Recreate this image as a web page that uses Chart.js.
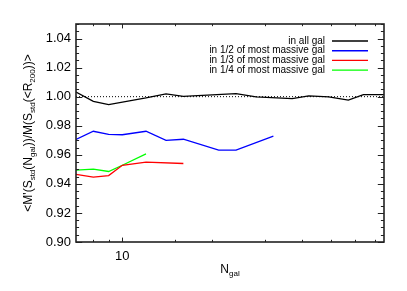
<!DOCTYPE html>
<html>
<head>
<meta charset="utf-8">
<script src="https://cdn.jsdelivr.net/npm/chart.js"></script>
<style>
  body { margin: 0; background: #fff; }
  canvas { display: block; }
</style>
</head>
<body>
<canvas id="chart" width="407" height="291"></canvas>
<script>
// data
const nAll = [7, 8, 9, 12, 14, 16, 24, 28, 37, 42, 49, 57, 64, 75];
const fracAll = [1.0032, 0.9968, 0.9945, 0.9991, 1.0019, 1.0002, 1.0021, 0.9998, 0.9986, 1.0005, 0.9998, 0.9976, 1.0014, 1.0014];

const nHalf = [7, 8, 9, 10, 12, 14, 16, 21, 24, 32];
const fracHalf = [0.9706, 0.9762, 0.9741, 0.9738, 0.9762, 0.9699, 0.9707, 0.9632, 0.9632, 0.9729];

const nThird = [7, 8, 9, 10, 12, 16];
const fracThird = [0.9465, 0.9447, 0.9457, 0.9528, 0.9550, 0.9540];

const nQuarter = [7, 8, 9, 10, 12];
const fracQuarter = [0.9495, 0.9502, 0.9485, 0.9528, 0.9606];

const refN = [7, 75];
const refLevel = [1.0, 1.0];

const labels = ["in all gal", "in 1/2 of most massive gal", "in 1/3 of most massive gal", "in 1/4 of most massive gal"];
const colors = ["#000000", "#0000ff", "#ff0000", "#00ff00"];

const xMin = 7, xMax = 75;
const yMin = 0.90, yMax = 1.05, yStep = 0.02, yMinorStep = 0.005;

const FONT = "'Liberation Sans', Arial, sans-serif";

function pts(xs, ys) {
  return xs.map((x, i) => ({ x: x, y: ys[i] }));
}

const series = [[nAll, fracAll], [nHalf, fracHalf], [nThird, fracThird], [nQuarter, fracQuarter]];

const datasets = series.map(([xs, ys], i) => ({
  label: labels[i],
  data: pts(xs, ys),
  borderColor: colors[i],
  borderWidth: 1.3,
  pointRadius: 0,
  tension: 0,
  fill: false,
}));
datasets.unshift({
  label: "",
  data: pts(refN, refLevel),
  borderColor: "#000",
  borderWidth: 1,
  borderDash: [1, 2],
  pointRadius: 0,
});

function drawParts(ctx, parts, big, small, subShift) {
  let w = 0;
  parts.forEach(p => {
    ctx.font = (p.sub ? small : big) + "px " + FONT;
    w += ctx.measureText(p.t).width;
  });
  let x = -w / 2;
  parts.forEach(p => {
    ctx.font = (p.sub ? small : big) + "px " + FONT;
    ctx.fillText(p.t, x, p.sub ? subShift : 0);
    x += ctx.measureText(p.t).width;
  });
}

// IDL-like box with inward ticks, titles with subscripts, legend
const boxPlugin = {
  id: "box",
  afterDraw(chart) {
    const { ctx, chartArea: a, scales } = chart;
    const x = scales.x, y = scales.y;
    ctx.save();
    ctx.strokeStyle = "#222";
    ctx.lineWidth = 1;
    ctx.beginPath();
    const nMinor = Math.round((yMax - yMin) / yMinorStep);
    for (let i = 0; i <= nMinor; i++) {
      const v = yMin + i * yMinorStep;
      const py = Math.round(y.getPixelForValue(v)) + 0.5;
      const major = i % Math.round(yStep / yMinorStep) === 0;
      const len = major ? 6.2 : 3.1;
      ctx.moveTo(a.left, py); ctx.lineTo(a.left + len, py);
      ctx.moveTo(a.right, py); ctx.lineTo(a.right - len, py);
    }
    x.ticks.forEach(t => {
      if (t.value <= xMin || t.value >= xMax) return;
      const px = Math.round(x.getPixelForValue(t.value)) + 0.5;
      const len = t.value === 10 ? 4.4 : 2.2;
      ctx.moveTo(px, a.bottom); ctx.lineTo(px, a.bottom - len);
      ctx.moveTo(px, a.top); ctx.lineTo(px, a.top + len);
    });
    ctx.stroke();
    ctx.lineWidth = 1.6;
    ctx.strokeRect(a.left, a.top, a.right - a.left, a.bottom - a.top);

    // axis titles
    ctx.fillStyle = "#000";
    ctx.textBaseline = "middle";
    ctx.textAlign = "left";
    ctx.save();
    ctx.translate(29, (a.top + a.bottom) / 2);
    ctx.rotate(-Math.PI / 2);
    drawParts(ctx, [
      { t: "<M'(S" }, { t: "std", sub: true }, { t: "(N" }, { t: "gal", sub: true },
      { t: "))/M(S" }, { t: "std", sub: true }, { t: "(<R" }, { t: "200", sub: true }, { t: "))>" }
    ], 12, 8, 4);
    ctx.restore();
    ctx.save();
    ctx.translate((a.left + a.right) / 2, 270);
    drawParts(ctx, [{ t: "N" }, { t: "gal", sub: true }], 12, 8, 4);
    ctx.restore();

    // legend
    ctx.font = "10px " + FONT;
    ctx.textAlign = "right";
    ctx.textBaseline = "middle";
    const items = chart.data.datasets.filter(d => d.label);
    items.forEach((d, i) => {
      const ly = a.top + 17 + i * 9.7;
      ctx.fillStyle = "#000";
      ctx.fillText(d.label, a.right - 59, ly);
      ctx.strokeStyle = d.borderColor;
      ctx.lineWidth = 1.4;
      ctx.beginPath();
      ctx.moveTo(a.right - 52, ly);
      ctx.lineTo(a.right - 16, ly);
      ctx.stroke();
    });
    ctx.restore();
  }
};

new Chart(document.getElementById("chart"), {
  type: "line",
  data: { datasets: datasets },
  options: {
    responsive: false,
    animation: false,
    devicePixelRatio: 1,
    layout: { padding: { left: 0, right: 23, top: 24, bottom: 0 } },
    plugins: { legend: { display: false }, tooltip: { enabled: false } },
    scales: {
      x: {
        type: "logarithmic",
        min: xMin,
        max: xMax,
        grid: { display: false, drawTicks: false },
        border: { display: false },
        ticks: {
          autoSkip: false,
          maxRotation: 0,
          padding: 7,
          color: "#000",
          font: { family: FONT, size: 13 },
          callback: v => (v === 10 ? "10" : ""),
        },
        afterFit: s => { s.height = 49; },
      },
      y: {
        type: "linear",
        min: yMin,
        max: yMax,
        grid: { display: false, drawTicks: false },
        border: { display: false },
        ticks: {
          stepSize: yStep,
          includeBounds: false,
          padding: 5,
          color: "#000",
          font: { family: FONT, size: 13 },
          callback: v => v.toFixed(2),
        },
        afterFit: s => { s.width = 76; },
      },
    },
  },
  plugins: [boxPlugin],
});
</script>
</body>
</html>
